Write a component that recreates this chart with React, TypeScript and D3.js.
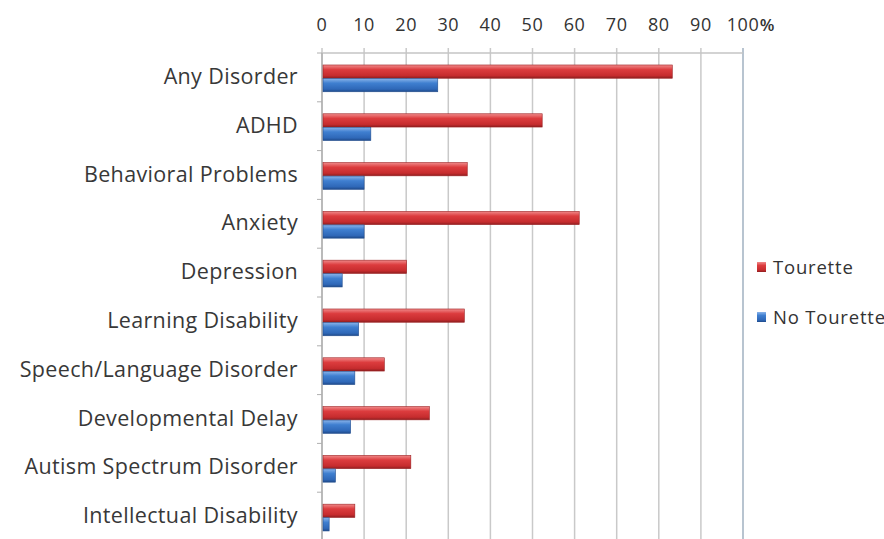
import * as d3 from 'd3';

const categories = [
  'Any Disorder',
  'ADHD',
  'Behavioral Problems',
  'Anxiety',
  'Depression',
  'Learning Disability',
  'Speech/Language Disorder',
  'Developmental Delay',
  'Autism Spectrum Disorder',
  'Intellectual Disability',
];
const tourette = [83.2, 52.3, 34.5, 61.1, 20.1, 33.8, 14.8, 25.5, 21.1, 7.8];
const noTourette = [27.5, 11.6, 10, 10, 4.8, 8.7, 7.8, 6.8, 3.2, 1.7];
const xTicks = [0, 10, 20, 30, 40, 50, 60, 70, 80, 90, 100];
const seriesNames = ['Tourette', 'No Tourette'];

const W = 884;
const H = 539;
const FONT = '"Open Sans", Lato, sans-serif';
const margin = { top: 53, left: 322, right: 141, bottom: -2 };

export default function App() {
  const x = d3.scaleLinear().domain([0, 100]).range([margin.left, W - margin.right]);
  const y = d3.scaleBand<string>().domain(categories).range([margin.top, H - margin.bottom]).paddingInner(0).paddingOuter(0);
  const inner = d3.scaleBand<string>().domain(seriesNames).range([y.bandwidth() * 0.24, y.bandwidth() * 0.8]).padding(0.02);

  const series = [
    { name: 'Tourette', values: tourette, fill: 'url(#gRed)' },
    { name: 'No Tourette', values: noTourette, fill: 'url(#gBlue)' },
  ];

  return (
    <svg width={W} height={H} style={{ position: 'fixed', left: 0, top: 0, background: '#fff' }}>
      <defs>
        <linearGradient id="gRed" x1="0" y1="0" x2="0" y2="1">
          <stop offset="0" stopColor="#f08a8a" />
          <stop offset="0.35" stopColor="#dc3c3e" />
          <stop offset="0.8" stopColor="#c62c2e" />
          <stop offset="1" stopColor="#8e1e20" />
        </linearGradient>
        <linearGradient id="gBlue" x1="0" y1="0" x2="0" y2="1">
          <stop offset="0" stopColor="#8ab4ea" />
          <stop offset="0.35" stopColor="#3f7fd0" />
          <stop offset="0.8" stopColor="#2f68b8" />
          <stop offset="1" stopColor="#1f4a8a" />
        </linearGradient>
      </defs>

      {/* vertical gridlines */}
      {xTicks.map(t => (
        <line key={'g' + t} x1={x(t)} x2={x(t)} y1={margin.top - 5} y2={H}
          stroke={t === 100 ? '#b8c4d0' : '#c9c9c9'} strokeWidth={t === 100 ? 2 : 1.5} />
      ))}
      {/* top axis line */}
      <line x1={x(0)} x2={x(100)} y1={margin.top} y2={margin.top} stroke="#c4c4c4" strokeWidth={1.5} />
      {/* left axis line + category ticks */}
      <line x1={x(0)} x2={x(0)} y1={margin.top} y2={H} stroke="#b0b0b0" strokeWidth={1.5} />
      {categories.map(c => (
        <line key={'t' + c} x1={x(0) - 5} x2={x(0)} y1={y(c)!} y2={y(c)!} stroke="#b0b0b0" strokeWidth={1} />
      ))}

      {/* tick labels */}
      {xTicks.map(t => (
        <text key={'l' + t} x={x(t)} y={31} textAnchor="middle" fontFamily={FONT} fontSize={18} letterSpacing={0.6} fill="#333">{t}</text>
      ))}
      <text x={x(100) + 24} y={31} textAnchor="middle" fontFamily={FONT} fontSize={17} fontWeight={600} fill="#333">%</text>

      {/* bars */}
      {series.map(s => categories.map((c, i) => (
        <rect key={s.name + c} x={x(0) + 1} y={y(c)! + inner(s.name)!} width={x(s.values[i]) - x(0) - 1}
          height={inner.bandwidth()} fill={s.fill} stroke={s.name === 'Tourette' ? '#9c2022' : '#234f8f'} strokeWidth={0.6} />
      )))}

      {/* category labels */}
      {categories.map(c => (
        <text key={'c' + c} x={298} y={y(c)! + y.bandwidth() / 2 - 1} dy="0.35em" textAnchor="end"
          fontFamily={FONT} fontSize={21.5} letterSpacing={0.35} fill="#383838">{c}</text>
      ))}

      {/* legend */}
      {series.map((s, i) => (
        <g key={'lg' + s.name} transform={`translate(757,${268 + i * 50})`}>
          <rect x={0} y={-6} width={9} height={10} fill={s.fill} />
          <text x={16} y={0} dy="0.35em" fontFamily={FONT} fontSize={18.5} letterSpacing={0.8} fill="#333">{s.name}</text>
        </g>
      ))}
    </svg>
  );
}
